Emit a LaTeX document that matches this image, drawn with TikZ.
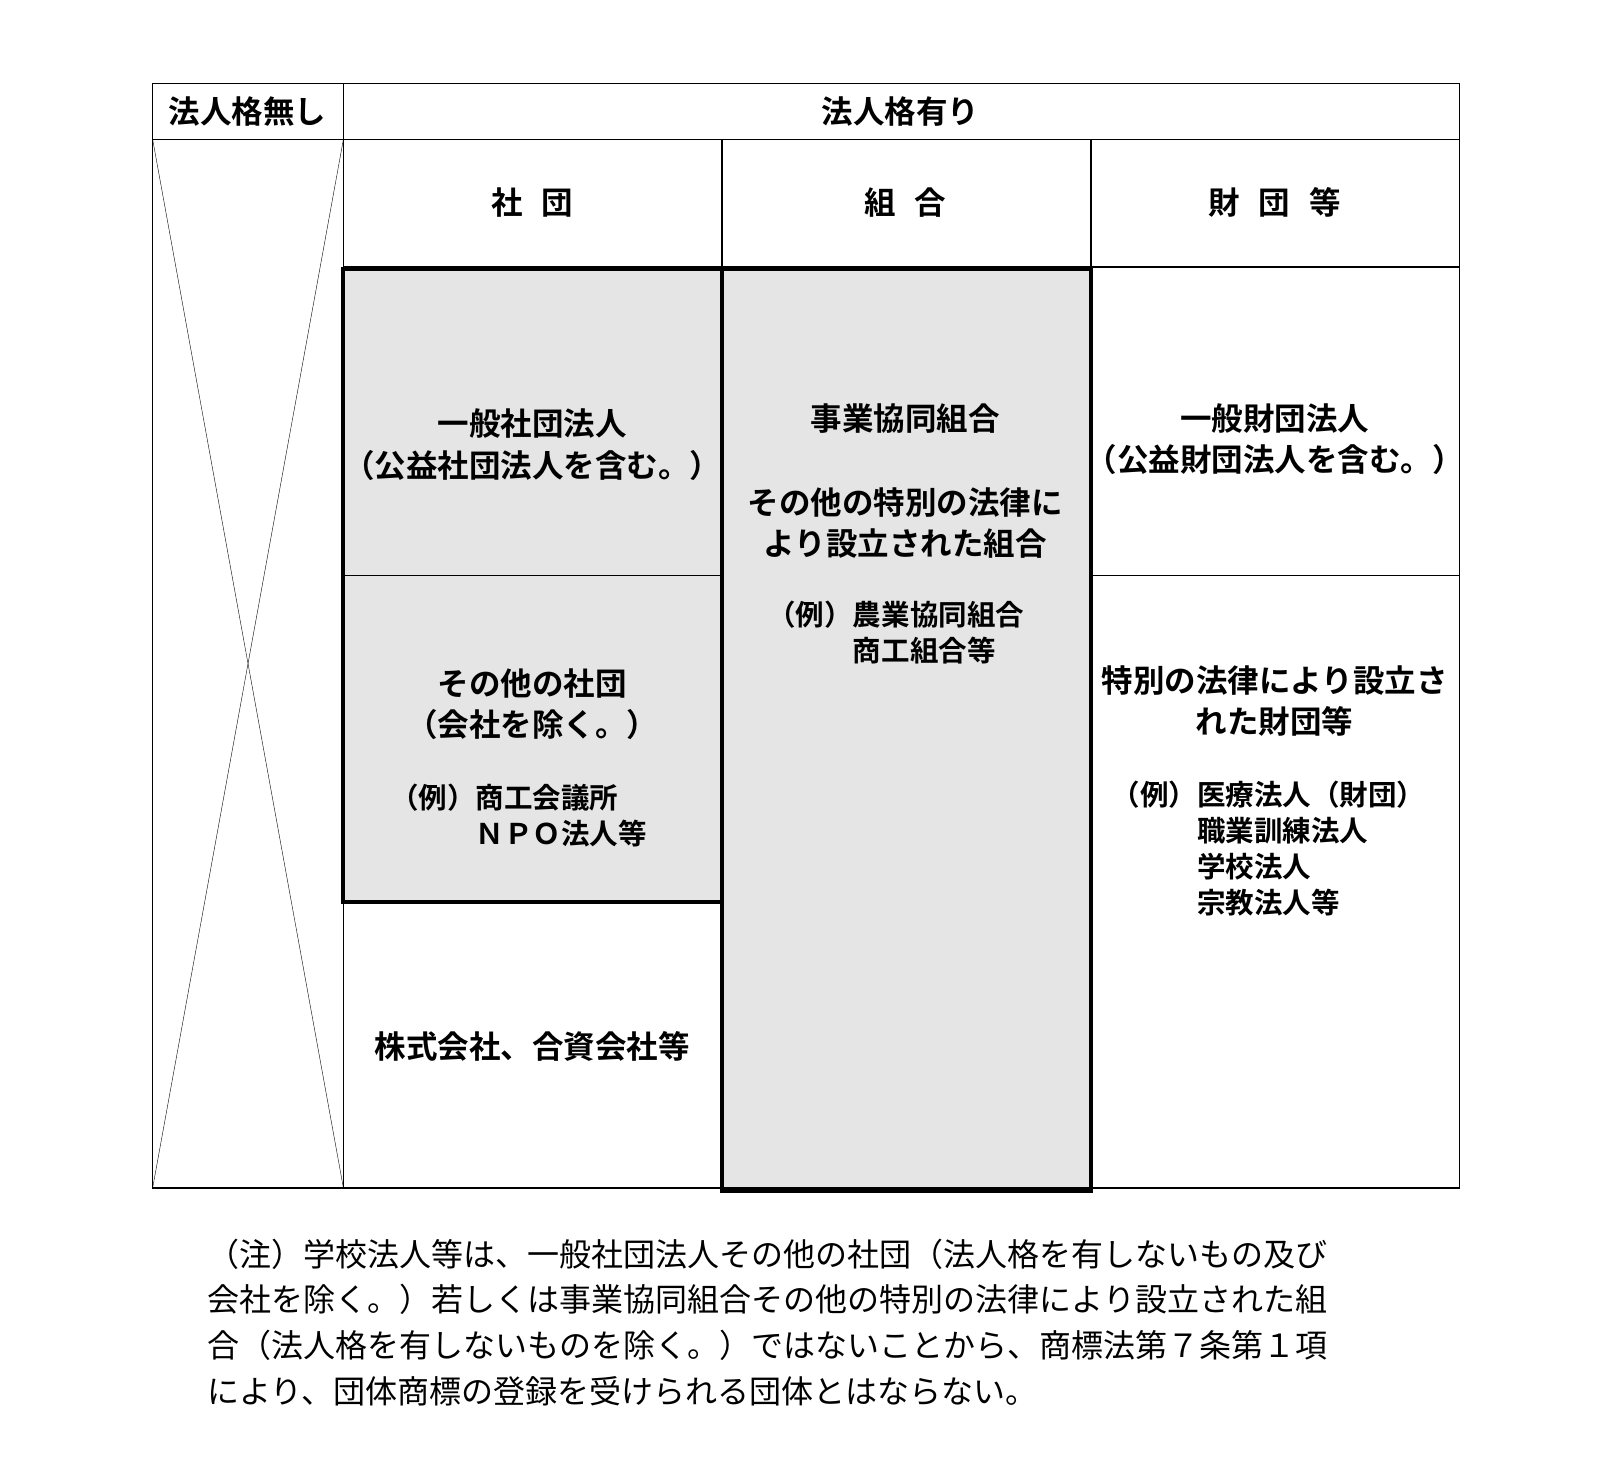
\documentclass[tikz,border=0pt]{standalone}
\usepackage{fontspec}
\newfontfamily\jpbold{Noto Sans CJK JP Bold}
\newfontfamily\jp{Noto Sans CJK JP}
\begin{document}
\begin{tikzpicture}[x=1.031pt,y=-1.031pt,
  every node/.style={inner sep=0pt},
  cell/.style={font=\jpbold\fontsize{31.5}{41.5}\selectfont, align=center},
  small/.style={font=\jpbold\fontsize{28.5}{36}\selectfont, align=left},
  note/.style={font=\jp\fontsize{32}{45.6}\selectfont, align=left, anchor=north west},
  grid/.style={line width=1.3pt},
  thick box/.style={line width=4pt, fill=gray!20}]
\useasboundingbox (0,0) rectangle (1567,1422);
% shaded blocks
\draw[thick box] (333,261) rectangle (700,875);
\draw[thick box] (700,261) rectangle (1058,1155);
\draw[grid] (333,558) -- (700,558);
% frame
\draw[grid] (148,81) rectangle (1415,1152);
\draw[grid] (148,135) -- (1415,135);
\draw[grid] (333,81) -- (333,1152);
\draw[grid] (700,135) -- (700,259);
\draw[grid] (1058,135) -- (1058,1152);
\draw[grid] (333,259) -- (1415,259);
\draw[grid] (1058,558) -- (1415,558);
\draw[grid] (700,875) -- (700,1152);
% cross
\draw (148,135) -- (333,1152);
\draw (333,135) -- (148,1152);
% headers
\node[cell] (none) at (240,108) {法人格無し};
\node[cell] (have) at (873,108) {法人格有り};
\node[cell] (shadan) at (516,196) {社\hspace{0.6em}団};
\node[cell] (kumiai) at (878,196) {組\hspace{0.6em}合};
\node[cell] (zaidan) at (1236,196) {財\hspace{0.6em}団\hspace{0.6em}等};
% cells
\node[cell] (ippan) at (516,431) {一般社団法人\\（公益社団法人を含む。）};
\node[cell] (sonota) at (516,683) {その他の社団\\（会社を除く。）};
\node[small, anchor=north west] (rei1) at (378,760) {（例）商工会議所\\\hspace{3em}ＮＰＯ法人等};
\node[cell] (kaisha) at (516,1015) {株式会社、合資会社等};
\node[cell] (jigyo) at (878,406) {事業協同組合};
\node[cell] (tokubetsu) at (878,507) {その他の特別の法律に\\より設立された組合};
\node[small, anchor=north west] (rei2) at (744,583) {（例）農業協同組合\\\hspace{3em}商工組合等};
\node[cell] (ippanz) at (1236,426) {一般財団法人\\（公益財団法人を含む。）};
\node[cell] (tokuz) at (1236,680) {特別の法律により設立さ\\れた財団等};
\node[small, anchor=north west] (rei3) at (1078,757) {（例）医療法人（財団）\\\hspace{3em}職業訓練法人\\\hspace{3em}学校法人\\\hspace{3em}宗教法人等};
% note
\node[note] (chu) at (201,1201) {（注）学校法人等は、一般社団法人その他の社団（法人格を有しないもの及び\\会社を除く。）若しくは事業協同組合その他の特別の法律により設立された組\\合（法人格を有しないものを除く。）ではないことから、商標法第７条第１項\\により、団体商標の登録を受けられる団体とはならない。};
\end{tikzpicture}
\end{document}
